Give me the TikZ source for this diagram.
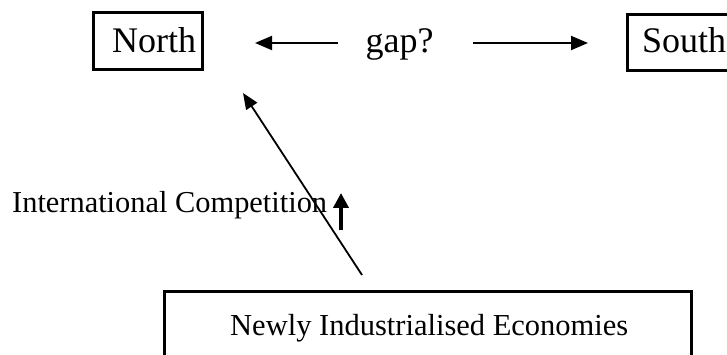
\documentclass[tikz,border=0pt]{standalone}
\usepackage{fontspec}
\setmainfont{Liberation Serif}
\usetikzlibrary{arrows.meta}
\begin{document}
\begin{tikzpicture}[x=1pt,y=-1pt,
  boxnode/.style={draw,line width=3pt,inner sep=0pt},
  bigtxt/.style={font=\fontsize{36}{40}\selectfont,inner sep=0pt},
  midtxt/.style={font=\fontsize{30.5}{34}\selectfont,inner sep=0pt},
  harrow/.style={line width=2pt,-{Triangle[length=17pt,width=14pt]}},
  darrow/.style={line width=1.8pt,-{Triangle[length=16pt,width=13pt]}},
  uarrow/.style={line width=4pt,-{Triangle[length=15pt,width=15pt]}}]
\useasboundingbox (0,0) rectangle (727,355);
% boxes
\node[boxnode,minimum width=109pt,minimum height=57pt] (northbox) at (147.5,41.5) {};
\node[boxnode,minimum width=120pt,minimum height=56pt,anchor=north west] (southbox) at (626,13) {};
\node[boxnode,minimum width=527pt,minimum height=90pt,anchor=north west] (niebox) at (163,290) {};
% texts
\node[bigtxt,anchor=base west] (north) at (112,53) {North};
\node[bigtxt,anchor=base] (gap) at (399.5,53) {gap?};
\node[bigtxt,anchor=base west] (south) at (642,53) {South};
\node[midtxt,anchor=base west,font=\fontsize{30.4}{34}\selectfont] (intl) at (12,213) {International Competition};
\node[midtxt,anchor=base west] (nie) at (230,335) {Newly Industrialised Economies};
% connector ends
\coordinate (ls) at (338,43);
\coordinate (lt) at (255,43);
\coordinate (rs) at (473,43);
\coordinate (rt) at (588,43);
\coordinate (ds) at (362,275);
\coordinate (dt) at (243,93);
\coordinate (us) at (341,230);
\coordinate (ut) at (341,193);
\draw[harrow] (ls) -- (lt);
\draw[harrow] (rs) -- (rt);
\draw[darrow] (ds) -- (dt);
\draw[uarrow] (us) -- (ut);
\end{tikzpicture}
\end{document}
